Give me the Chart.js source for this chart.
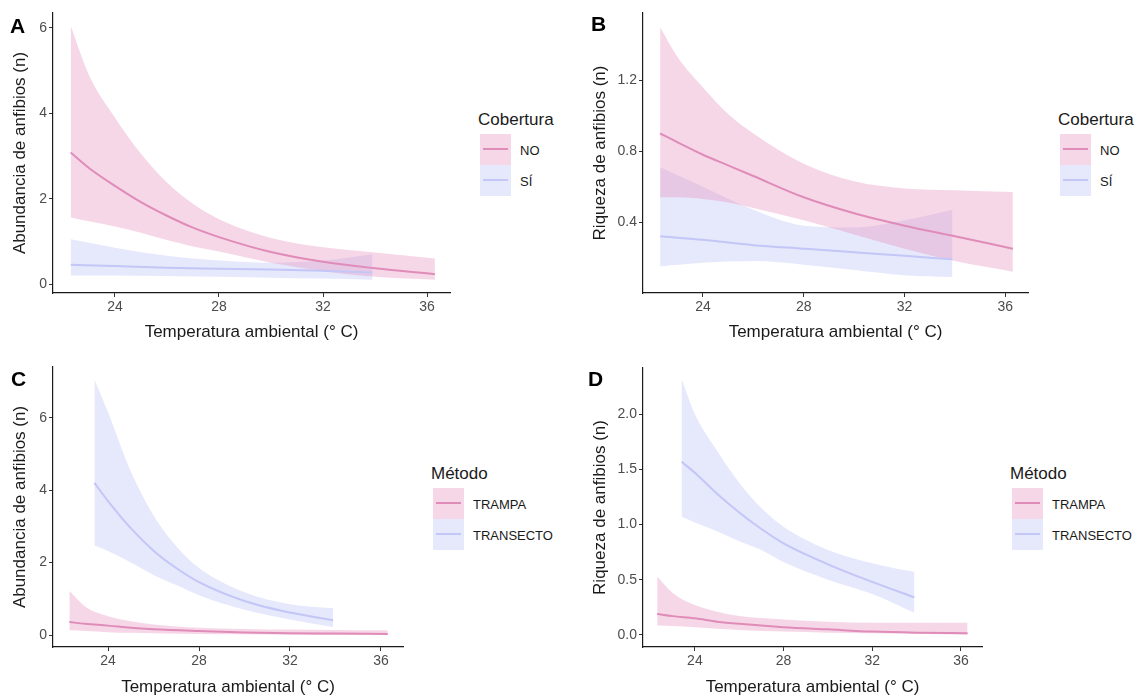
<!DOCTYPE html>
<html>
<head>
<meta charset="utf-8">
<script src="https://cdn.jsdelivr.net/npm/chart.js@4.4.0/dist/chart.umd.min.js"></script>
<style>
  body { margin: 0; background: #fff; font-family: 'Liberation Sans', Arial, sans-serif; }
  #wrap { position: relative; width: 1145px; height: 698px; overflow: hidden; }
  canvas { position: absolute; }
  .tag { position: absolute; font-weight: bold; font-size: 21px; color: #000; }
  .leg { position: absolute; color: #1a1a1a; }
  .leg .ttl { font-size: 17px; line-height: 20px; margin-bottom: 4px; }
  .leg .row { position: relative; height: 31px; }
  .leg .key { position: absolute; left: 2px; top: 0; width: 31px; height: 31px; }
  .leg .key i { position: absolute; left: 3px; right: 3px; top: 14px; height: 2px; }
  .leg .lab { position: absolute; left: 42px; top: 9px; font-size: 13px; line-height: 15px; }
</style>
</head>
<body>
<div id="wrap">
  <canvas id="pA" width="460" height="345" style="left:0;top:0"></canvas>
  <canvas id="pB" width="460" height="345" style="left:580px;top:0"></canvas>
  <canvas id="pC" width="420" height="343" style="left:0;top:355px"></canvas>
  <canvas id="pD" width="420" height="343" style="left:580px;top:355px"></canvas>
  <div class="tag" style="left:10px;top:14px">A</div>
  <div class="tag" style="left:591px;top:12px">B</div>
  <div class="tag" style="left:11px;top:367px">C</div>
  <div class="tag" style="left:588px;top:367px">D</div>
</div>
<script>
// colours taken from the figure
const PINK = '#e08cb9', PINK_FILL = 'rgba(229,140,185,0.35)';
const BLUE = '#c3c6f6', BLUE_FILL = 'rgba(178,184,245,0.33)';

// shared x ticks (temperature, °C)
const xTicks = [24, 28, 32, 36];

// Panel A - abundancia vs cobertura
const aNoX  = [22.3, 23, 24, 25, 26, 27, 28, 30, 32, 34, 36.3];
const aNoFit = [3.08, 2.72, 2.3, 1.92, 1.6, 1.32, 1.1, 0.75, 0.52, 0.37, 0.23];
const aNoUp  = [6.05, 4.9, 3.9, 3.05, 2.38, 1.88, 1.52, 1.08, 0.86, 0.74, 0.6];
const aNoLo  = [1.56, 1.47, 1.35, 1.2, 1.03, 0.88, 0.76, 0.5, 0.3, 0.17, 0.1];
const aSiX  = [22.3, 24, 26, 28, 30, 32, 33.9];
const aSiFit = [0.45, 0.42, 0.38, 0.36, 0.34, 0.31, 0.27];
const aSiUp  = [1.05, 0.85, 0.66, 0.55, 0.5, 0.55, 0.7];
const aSiLo  = [0.2, 0.2, 0.19, 0.17, 0.15, 0.13, 0.1];

// Panel B - riqueza vs cobertura
const bNoX  = [22.3, 23, 24, 25, 26, 28, 30, 32, 34, 36.3];
const bNoFit = [0.9, 0.85, 0.78, 0.72, 0.66, 0.54, 0.45, 0.38, 0.32, 0.25];
const bNoUp  = [1.5, 1.33, 1.16, 1.01, 0.9, 0.73, 0.63, 0.59, 0.58, 0.57];
const bNoLo  = [0.54, 0.54, 0.53, 0.51, 0.48, 0.41, 0.33, 0.25, 0.18, 0.12];
const bSiX  = [22.3, 24, 26, 28, 30, 32, 33.9];
const bSiFit = [0.32, 0.3, 0.27, 0.25, 0.23, 0.21, 0.19];
const bSiUp  = [0.71, 0.6, 0.47, 0.38, 0.37, 0.41, 0.47];
const bSiLo  = [0.15, 0.17, 0.18, 0.16, 0.13, 0.1, 0.09];

// Panel C - abundancia vs metodo
const cTrapX  = [22.3, 23, 24, 25, 26, 28, 30, 32, 34, 36.3];
const cTrapFit = [0.36, 0.31, 0.26, 0.2, 0.16, 0.11, 0.07, 0.05, 0.04, 0.03];
const cTrapUp  = [1.22, 0.78, 0.52, 0.38, 0.29, 0.2, 0.17, 0.15, 0.14, 0.13];
const cTrapLo  = [0.13, 0.11, 0.08, 0.06, 0.05, 0.03, 0.02, 0.01, 0.0, 0.0];
const cTranX  = [23.4, 24, 25, 26, 27, 28, 30, 32, 33.9];
const cTranFit = [4.2, 3.7, 2.95, 2.33, 1.85, 1.46, 0.94, 0.62, 0.41];
const cTranUp  = [7.05, 6.15, 4.52, 3.3, 2.45, 1.85, 1.18, 0.85, 0.74];
const cTranLo  = [2.47, 2.32, 2.0, 1.66, 1.38, 1.1, 0.7, 0.43, 0.22];

// Panel D - riqueza vs metodo
const dTrapX  = [22.3, 23, 24, 25, 26, 28, 30, 32, 34, 36.3];
const dTrapFit = [0.19, 0.17, 0.15, 0.12, 0.1, 0.07, 0.05, 0.03, 0.02, 0.015];
const dTrapUp  = [0.53, 0.38, 0.27, 0.21, 0.17, 0.14, 0.12, 0.11, 0.11, 0.11];
const dTrapLo  = [0.085, 0.08, 0.07, 0.055, 0.045, 0.03, 0.02, 0.015, 0.01, 0.0];
const dTranX  = [23.4, 24, 25, 26, 27, 28, 30, 32, 33.9];
const dTranFit = [1.57, 1.47, 1.28, 1.11, 0.96, 0.83, 0.64, 0.48, 0.34];
const dTranUp  = [2.32, 2.0, 1.67, 1.38, 1.15, 0.98, 0.77, 0.65, 0.57];
const dTranLo  = [1.07, 1.02, 0.94, 0.85, 0.77, 0.66, 0.5, 0.37, 0.2];

const yTicksA = [0, 2, 4, 6];
const yTicksB = [0.4, 0.8, 1.2];
const yTicksC = [0, 2, 4, 6];
const yTicksD = [0, 0.5, 1, 1.5, 2];

Chart.defaults.font.family = "'Liberation Sans', Arial, sans-serif";
Chart.defaults.animation = false;

const pts = (xs, ys) => xs.map((x, i) => ({ x, y: ys[i] }));

// one smoothed group: lower edge, upper edge filled to it, fit line
function group(xs, fit, up, lo, line, fill, base) {
  return [
    { data: pts(xs, lo), borderWidth: 0, pointRadius: 0, fill: false, cubicInterpolationMode: 'monotone' },
    { data: pts(xs, up), borderWidth: 0, pointRadius: 0, fill: base, backgroundColor: fill, cubicInterpolationMode: 'monotone' },
    { data: pts(xs, fit), borderColor: line, borderWidth: 2, pointRadius: 0, fill: false, cubicInterpolationMode: 'monotone', order: -1 }
  ];
}

function panel(id, sets, o) {
  new Chart(document.getElementById(id), {
    type: 'line',
    data: { datasets: sets },
    options: {
      responsive: false,
      layout: { padding: { top: o.top, right: o.right, left: 0, bottom: 0 } },
      plugins: { legend: { display: false }, tooltip: { enabled: false } },
      scales: {
        x: {
          type: 'linear', min: o.xmin, max: o.xmax,
          afterBuildTicks: s => { s.ticks = xTicks.map(v => ({ value: v })); },
          afterFit: s => { s.height = o.xh; },
          grid: { drawOnChartArea: false, drawTicks: true, tickLength: 4, color: '#333' },
          border: { display: true, color: '#1a1a1a', width: 1.2 },
          ticks: { color: '#4d4d4d', font: { size: 14 }, padding: 2 },
          title: { display: true, text: 'Temperatura ambiental (° C)', color: '#1a1a1a', font: { size: 17 }, padding: { bottom: o.xtp } }
        },
        y: {
          min: o.ymin, max: o.ymax,
          afterBuildTicks: s => { s.ticks = o.yTicks.map(v => ({ value: v })); },
          afterFit: s => { s.width = o.yw; },
          grid: { drawOnChartArea: false, drawTicks: true, tickLength: 4, color: '#333' },
          border: { display: true, color: '#1a1a1a', width: 1.2 },
          ticks: { color: '#4d4d4d', font: { size: 14 }, padding: 2, callback: v => o.dec ? v.toFixed(1) : String(v) },
          title: { display: true, text: o.ytitle, color: '#1a1a1a', font: { size: 17 }, padding: { top: 10 } }
        }
      }
    }
  });
}

panel('pA', [...group(aNoX, aNoFit, aNoUp, aNoLo, PINK, PINK_FILL, 0), ...group(aSiX, aSiFit, aSiUp, aSiLo, BLUE, BLUE_FILL, 3)],
  { top: 13, right: 10, xh: 52, yw: 53, xmin: 21.62, xmax: 36.88, ymin: -0.21, ymax: 6.35, yTicks: yTicksA, dec: false, xtp: 2, ytitle: 'Abundancia de anfibios (n)' });
panel('pB', [...group(bNoX, bNoFit, bNoUp, bNoLo, PINK, PINK_FILL, 0), ...group(bSiX, bSiFit, bSiUp, bSiLo, BLUE, BLUE_FILL, 3)],
  { top: 13, right: 12, xh: 52, yw: 63, xmin: 21.62, xmax: 36.9, ymin: 0.0, ymax: 1.58, yTicks: yTicksB, dec: true, xtp: 2, ytitle: 'Riqueza de anfibios (n)' });
panel('pC', [...group(cTrapX, cTrapFit, cTrapUp, cTrapLo, PINK, PINK_FILL, 0), ...group(cTranX, cTranFit, cTranUp, cTranLo, BLUE, BLUE_FILL, 3)],
  { top: 12, right: 17, xh: 51, yw: 53, xmin: 21.58, xmax: 36.97, ymin: -0.33, ymax: 7.4, yTicks: yTicksC, dec: false, xtp: 0, ytitle: 'Abundancia de anfibios (n)' });
panel('pD', [...group(dTrapX, dTrapFit, dTrapUp, dTrapLo, PINK, PINK_FILL, 0), ...group(dTranX, dTranFit, dTranUp, dTranLo, BLUE, BLUE_FILL, 3)],
  { top: 13, right: 18, xh: 51, yw: 63, xmin: 21.66, xmax: 36.95, ymin: -0.11, ymax: 2.42, yTicks: yTicksD, dec: true, xtp: 0, ytitle: 'Riqueza de anfibios (n)' });

// legends (ribbon + line keys)
function legend(left, top, title, labels) {
  const cols = [[PINK, PINK_FILL], [BLUE, BLUE_FILL]];
  const d = document.createElement('div');
  d.className = 'leg';
  d.style.left = left + 'px';
  d.style.top = top + 'px';
  let h = '<div class="ttl">' + title + '</div>';
  labels.forEach((t, i) => {
    h += '<div class="row"><div class="key" style="background:' + cols[i][1] + '"><i style="background:' + cols[i][0] + '"></i></div><div class="lab">' + t + '</div></div>';
  });
  d.innerHTML = h;
  document.getElementById('wrap').appendChild(d);
}
legend(478, 110, 'Cobertura', ['NO', 'SÍ']);
legend(1058, 110, 'Cobertura', ['NO', 'SÍ']);
legend(431, 464, 'Método', ['TRAMPA', 'TRANSECTO']);
legend(1010, 464, 'Método', ['TRAMPA', 'TRANSECTO']);
</script>
</body>
</html>
